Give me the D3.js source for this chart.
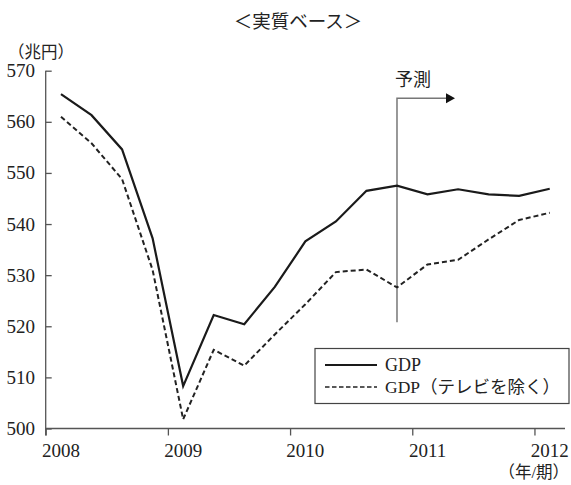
<!DOCTYPE html>
<html>
<head>
<meta charset="utf-8">
<script src="https://cdn.jsdelivr.net/npm/d3@7/dist/d3.min.js"></script>
<style>
  html, body { margin: 0; padding: 0; background: #fff; }
  svg { display: block; }
  text { font-family: "Liberation Serif", "Noto Sans CJK JP", serif; fill: #222; }
</style>
</head>
<body>
<svg id="chart" width="571" height="485"></svg>
<script>
// Quarterly periods, 2008 Q1 – 2012 Q1
const years = [2008, 2008, 2008, 2008, 2009, 2009, 2009, 2009, 2010, 2010, 2010, 2010, 2011, 2011, 2011, 2011, 2012];
const quarters = [1, 2, 3, 4, 1, 2, 3, 4, 1, 2, 3, 4, 1, 2, 3, 4, 1];

// Real GDP (trillion yen)
const gdp = [565.4, 561.3, 554.6, 537.2, 508.3, 522.2, 520.4, 527.7, 536.6, 540.5, 546.5, 547.5, 545.8, 546.8, 545.8, 545.5, 546.9];
// Real GDP excluding TV sets
const gdpExTv = [561.0, 555.8, 548.8, 531.0, 501.8, 515.4, 512.3, 518.4, 524.3, 530.6, 531.1, 527.6, 532.1, 533.0, 537.0, 540.8, 542.2];

const seriesNames = ["GDP", "GDP（テレビを除く）"];
const yTicks = [500, 510, 520, 530, 540, 550, 560, 570];
const xTickYears = [2008, 2009, 2010, 2011, 2012];

// Forecast marker: starts at 2010 Q4
const forecastIndex = 11;
const forecastRange = [520.8, 564.6];
const forecastArrowEnd = 2011.35;

const svg = d3.select("#chart");
const x = d3.scaleLinear().domain([2008, 2012.25]).range([45.7, 565]);
const y = d3.scaleLinear().domain([500, 570]).range([428.5, 70.7]);
const t = i => years[i] + (quarters[i] - 0.5) / 4;

const axisColor = "#555";

// Title and unit labels
svg.append("text").attr("x", 298).attr("y", 28).attr("text-anchor", "middle")
  .style("font-size", "18.5px").text("＜実質ベース＞");
svg.append("text").attr("x", 8).attr("y", 58).style("font-size", "16.5px")
  .text("（兆円）");
svg.append("text").attr("x", 569).attr("y", 478).attr("text-anchor", "end")
  .style("font-size", "16.5px").text("（年/期）");

// Y axis: ticks point inward
const yAxis = svg.append("g").attr("transform", `translate(${x(2008)},0)`)
  .call(d3.axisRight(y).tickValues(yTicks).tickSize(6).tickFormat(""));
yAxis.select(".domain").remove();
yAxis.selectAll(".tick line").attr("stroke", axisColor).attr("stroke-width", 1.3);
svg.append("line").attr("x1", x(2008)).attr("x2", x(2008))
  .attr("y1", y(570)).attr("y2", y(500) + 7)
  .attr("stroke", axisColor).attr("stroke-width", 1.3);
svg.selectAll(".ylab").data(yTicks).join("text").attr("class", "ylab")
  .attr("x", 35).attr("y", d => y(d) + 6.5).attr("text-anchor", "end")
  .style("font-size", "19px").text(d => d);

// X axis: ticks point downward, labels centred on the first quarter
const xAxis = svg.append("g").attr("transform", `translate(0,${y(500)})`)
  .call(d3.axisBottom(x).tickValues(xTickYears).tickSize(7).tickFormat(""));
xAxis.select(".domain").attr("stroke", axisColor).attr("stroke-width", 1.3)
  .attr("d", `M${x(2008)},0H${x(2012.25)}`);
xAxis.selectAll(".tick line").attr("stroke", axisColor).attr("stroke-width", 1.3);
svg.selectAll(".xlab").data(xTickYears).join("text").attr("class", "xlab")
  .attr("x", d => x(d + 0.125)).attr("y", 457).attr("text-anchor", "middle")
  .style("font-size", "19px").text(d => d);

// Forecast marker
const fx = x(t(forecastIndex));
svg.append("path")
  .attr("d", `M${fx},${y(forecastRange[0])}V${y(forecastRange[1])}H${x(forecastArrowEnd) - 8}`)
  .attr("fill", "none").attr("stroke", "#777").attr("stroke-width", 1.5);
svg.append("path")
  .attr("d", `M${x(forecastArrowEnd) - 9},${y(forecastRange[1]) - 5}L${x(forecastArrowEnd)},${y(forecastRange[1])}L${x(forecastArrowEnd) - 9},${y(forecastRange[1]) + 5}Z`)
  .attr("fill", "#111");
svg.append("text").attr("x", fx - 2).attr("y", y(forecastRange[1]) - 12)
  .style("font-size", "18px").text("予測");

// Lines
const line = d3.line().x((d, i) => x(t(i))).y(d => y(d));
svg.append("path").datum(gdpExTv).attr("d", line)
  .attr("fill", "none").attr("stroke", "#222").attr("stroke-width", 2)
  .attr("stroke-dasharray", "5,3");
svg.append("path").datum(gdp).attr("d", line)
  .attr("fill", "none").attr("stroke", "#1a1a1a").attr("stroke-width", 2.2);

// Legend
const lg = svg.append("g");
lg.append("rect").attr("x", 315).attr("y", 348.5).attr("width", 254).attr("height", 55)
  .attr("fill", "#fff").attr("stroke", "#444").attr("stroke-width", 1.2);
lg.append("line").attr("x1", 325).attr("x2", 377).attr("y1", 365).attr("y2", 365)
  .attr("stroke", "#1a1a1a").attr("stroke-width", 2);
lg.append("line").attr("x1", 325).attr("x2", 377).attr("y1", 387).attr("y2", 387)
  .attr("stroke", "#222").attr("stroke-width", 1.6).attr("stroke-dasharray", "4.5,2.5");
lg.append("text").attr("x", 385).attr("y", 371).style("font-size", "18px").text(seriesNames[0]);
lg.append("text").attr("x", 385).attr("y", 393).style("font-size", "17.5px").text(seriesNames[1]);
</script>
</body>
</html>
